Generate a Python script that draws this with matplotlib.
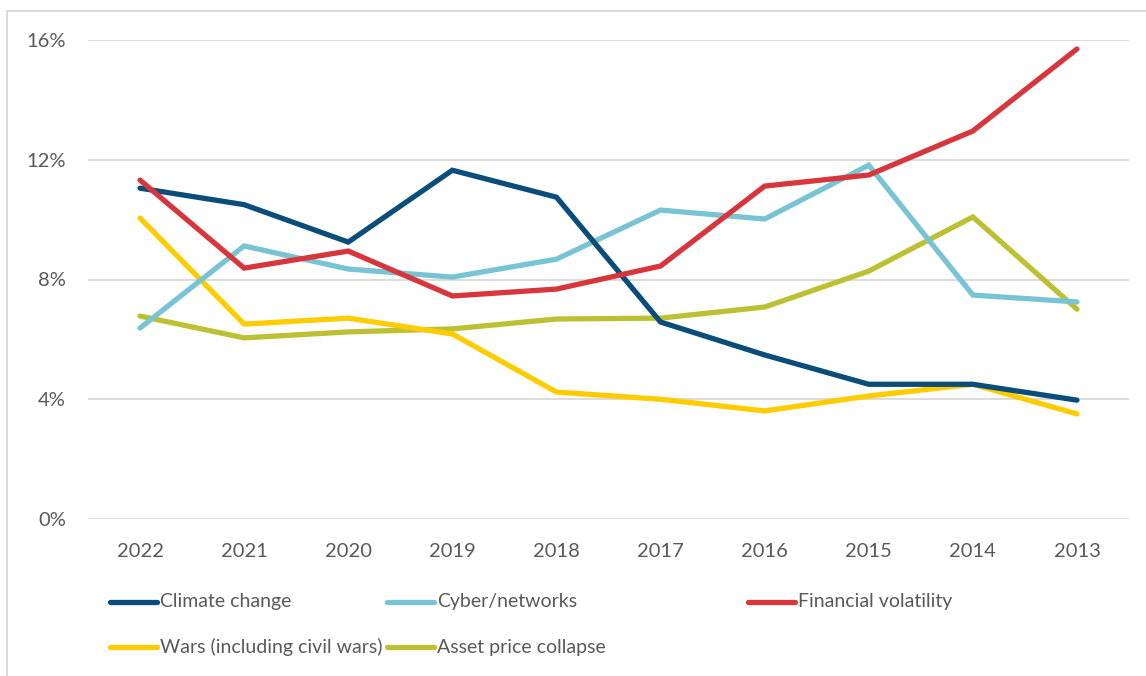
import matplotlib
matplotlib.use("Agg")
import matplotlib.pyplot as plt
from matplotlib.lines import Line2D
from matplotlib.patches import Rectangle
from matplotlib.ticker import FuncFormatter

plt.rcParams["font.family"] = ["Lato", "DejaVu Sans"]

years = ["2022", "2021", "2020", "2019", "2018", "2017", "2016", "2015", "2014", "2013"]

climate = [11.05, 10.50, 9.25, 11.65, 10.75, 6.58, 5.48, 4.50, 4.50, 3.97]
cyber = [6.38, 9.12, 8.35, 8.08, 8.68, 10.32, 10.02, 11.82, 7.48, 7.25]
financial = [11.32, 8.38, 8.95, 7.45, 7.68, 8.45, 11.12, 11.49, 12.96, 15.70]
wars = [10.05, 6.51, 6.71, 6.18, 4.24, 4.00, 3.61, 4.11, 4.50, 3.51]
asset = [6.78, 6.05, 6.25, 6.35, 6.68, 6.71, 7.08, 8.28, 10.09, 7.01]

series = [
    ("Climate change", climate, "#0A4D7A"),
    ("Cyber/networks", cyber, "#79C4D4"),
    ("Financial volatility", financial, "#D6363C"),
    ("Wars (including civil wars)", wars, "#FFCC00"),
    ("Asset price collapse", asset, "#BCC133"),
]
# draw order (bottom to top)
draw_order = ["Asset price collapse", "Wars (including civil wars)", "Cyber/networks",
              "Climate change", "Financial volatility"]

W, H = 1146, 676
fig = plt.figure(figsize=(W / 100, H / 100), dpi=100)
ax = fig.add_axes([88 / W, 1 - 519 / H, (1129 - 88) / W, (519 - 40) / H])

x = list(range(len(years)))
by_name = {n: (v, c) for n, v, c in series}
for i, name in enumerate(draw_order):
    v, c = by_name[name]
    ax.plot(x, v, color=c, lw=3.8, solid_capstyle="round", solid_joinstyle="miter", zorder=3 + i)

ax.set_xlim(-0.5, len(years) - 0.5)
ax.set_ylim(0, 16)
ax.set_yticks([0, 4, 8, 12, 16])
ax.yaxis.set_major_formatter(FuncFormatter(lambda v, p: "%d%%" % v))
ax.set_xticks(x)
ax.set_xticklabels(years)
ax.grid(axis="y", color="#D9D9D9", lw=1.3)
ax.set_axisbelow(True)
for s in ax.spines.values():
    s.set_visible(False)
ax.tick_params(length=0, labelsize=14.5, labelcolor="#595959")
ax.tick_params(axis="y", pad=16)
ax.tick_params(axis="x", pad=17)

# outer frame
fig.patches.append(Rectangle((7 / W, -0.05), 1.2, 1 - 11 / H + 0.05, transform=fig.transFigure,
                             fill=False, edgecolor="#D9D9D9", lw=1.3))

# legend, two rows
pos = {
    "Climate change": (110, 602), "Cyber/networks": (387, 602), "Financial volatility": (748, 602),
    "Wars (including civil wars)": (110, 647), "Asset price collapse": (387, 647),
}
for name, v, c in series:
    px, py = pos[name]
    fy = 1 - py / H
    fig.add_artist(Line2D([px / W, (px + 47) / W], [fy, fy], transform=fig.transFigure,
                          color=c, lw=3.8, solid_capstyle="round"))
    fig.text((px + 50) / W, fy, name, fontsize=14, color="#595959", va="center", ha="left")

fig.savefig("out.png", dpi=100)
